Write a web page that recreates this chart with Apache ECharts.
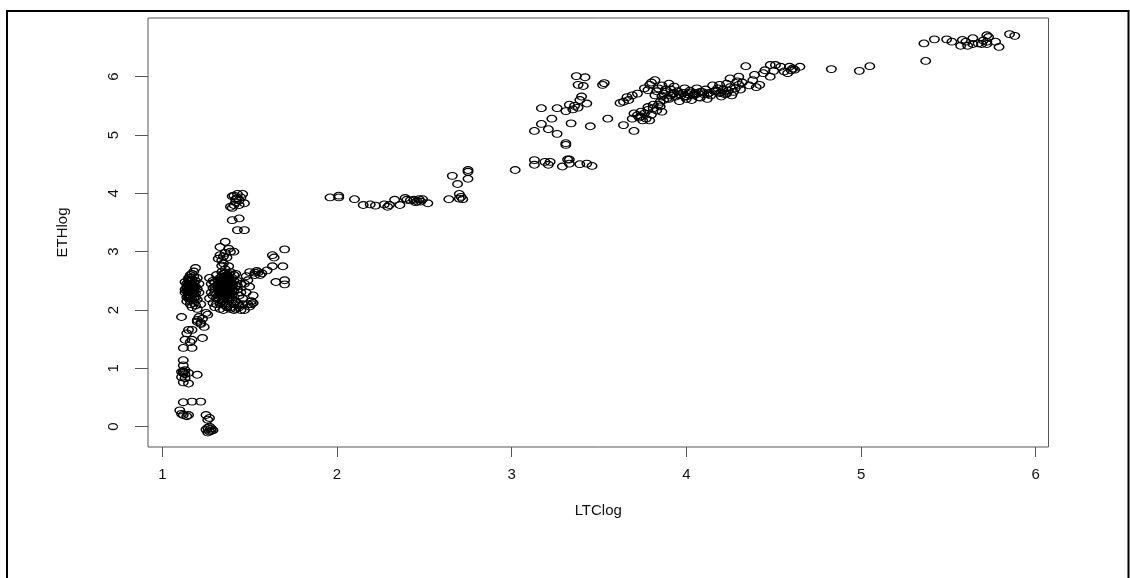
<!DOCTYPE html>
<html>
<head>
<meta charset="utf-8">
<script src="https://cdn.jsdelivr.net/npm/echarts@6.0.0/dist/echarts.min.js"></script>
<style>
html,body{margin:0;padding:0;background:#fff;}
#chart{width:1130px;height:578px;}
</style>
</head>
<body>
<div id="chart"></div>
<script>
// Tick labels
var xTicks = [1, 2, 3, 4, 5, 6];
var yTicks = [0, 1, 2, 3, 4, 5, 6];

// LTClog values (x) and ETHlog values (y), paired by index
var ltcLog = [
  // left column
  1.19,1.17,1.18,1.15,1.16,1.18,1.14,1.17,1.15,1.19,1.14,1.16,1.18,1.15,1.17,1.13,1.16,1.19,1.15,1.17,
  1.14,1.18,1.16,1.19,1.17,1.20,1.15,1.13,1.20,1.21,1.20,1.16,1.18,1.15,1.13,1.19,1.20,1.14,1.22,1.21,
  1.15,1.17,1.16,1.18,1.14,1.16,1.17,1.15,1.18,1.16,1.14,1.17,1.19,1.15,1.16,1.18,1.17,1.15,1.16,1.18,
  // main blob
  1.27,1.28,1.29,1.28,1.27,1.29,1.30,1.31,1.32,1.31,1.32,1.31,1.32,1.31,1.33,1.34,1.33,1.35,1.34,1.33,
  1.35,1.34,1.36,1.35,1.36,1.37,1.36,1.38,1.37,1.36,1.38,1.37,1.39,1.38,1.39,1.40,1.39,1.40,1.41,1.39,
  1.40,1.41,1.42,1.42,1.43,1.42,1.43,1.44,1.42,1.44,1.45,1.45,1.30,1.33,1.35,1.37,1.39,1.36,1.34,1.38,
  1.32,1.35,1.37,1.33,1.36,1.40,1.41,1.35,1.30,1.31,1.29,1.38,1.36,1.34,1.40,1.38,1.33,1.37,1.41,1.43,
  1.29,1.30,
  1.33,1.34,1.35,1.36,1.37,1.38,1.39,1.34,1.35,1.36,1.37,1.38,1.33,1.35,1.36,1.37,1.39,1.34,1.36,1.38,
  1.35,1.36,1.37,1.38,1.34,1.35,1.37,1.39,1.36,1.38,1.33,1.35,1.37,1.36,1.34,1.38,1.35,1.37,1.36,1.39,
  1.32,1.34,1.36,1.38,1.40,1.35,1.37,1.33,1.39,1.36,
  // upper part of blob
  1.36,1.33,1.33,1.39,1.41,1.34,1.35,1.37,1.36,1.32,1.38,1.35,1.34,
  // top cluster
  1.43,1.46,1.40,1.43,1.47,1.39,1.41,1.44,1.40,1.44,1.43,1.47,1.42,1.45,1.40,1.42,1.41,1.44,
  // right wing
  1.70,1.63,1.64,1.69,1.63,1.65,1.70,1.70,1.60,1.55,1.50,1.53,1.49,1.50,1.52,1.52,1.46,1.45,1.47,1.41,
  1.39,1.57,1.54,1.48,1.47,1.51,1.49,1.46,1.48,1.56,1.53,1.51,1.50,1.44,1.43,
  // lower stem
  1.11,1.21,1.20,1.24,1.26,1.23,1.22,1.25,1.15,1.17,1.13,1.17,1.23,1.12,1.17,1.16,1.14,1.12,1.11,1.12,
  1.13,1.15,1.20,1.12,1.15,1.13,1.12,1.11,1.12,1.17,1.22,1.10,1.12,1.14,1.11,1.15,1.25,1.27,1.26,1.25,
  1.27,1.28,1.26,1.29,1.27,1.20,1.22,1.13,1.12,1.28,1.26,
  // 2 - 3
  1.96,2.01,2.01,2.10,2.15,2.19,2.22,2.27,2.29,2.30,2.33,2.36,2.39,2.40,2.44,2.46,2.47,2.49,2.52,2.45,
  2.64,2.70,2.71,2.72,2.70,2.66,2.69,2.75,2.75,2.75,3.02,2.42,2.48,
  // 3 - 3.6
  3.13,3.13,3.19,3.21,3.22,3.29,3.32,3.33,3.39,3.43,3.46,3.33,3.31,3.31,3.13,3.17,3.21,3.26,3.23,3.17,
  3.26,3.31,3.33,3.34,3.35,3.39,3.40,3.43,3.45,3.37,3.42,3.38,3.41,3.52,3.53,3.55,3.36,3.38,
  // 3.6 - 4.4
  3.69,3.72,3.76,3.78,3.81,3.85,3.75,3.79,3.70,3.86,3.77,3.73,3.80,3.83,3.74,
  3.64,3.70,3.64,3.66,3.69,3.72,3.62,3.67,
  3.82,3.79,3.84,3.87,3.89,3.78,3.82,3.90,3.93,3.85,3.80,3.76,3.83,3.86,3.88,
  3.90,3.92,3.94,3.95,3.97,3.98,4.00,4.01,4.02,4.04,4.05,4.07,4.08,4.10,4.11,4.13,4.14,4.16,4.18,4.19,
  4.21,4.22,4.24,4.25,4.27,4.28,4.30,4.31,3.96,4.03,4.06,4.12,4.20,3.91,3.99,4.15,4.23,4.29,4.32,4.26,
  3.86,3.88,3.91,3.93,3.96,3.99,4.02,4.05,4.09,4.12,4.17,4.20,4.23,3.84,3.87,3.81,3.78,3.74,4.00,4.08,
  4.19,4.25,4.30,4.39,4.38,4.34,4.42,4.36,4.40,
  4.45,4.48,4.51,4.54,4.48,4.56,4.59,4.60,4.61,4.65,4.58,4.44,4.50,4.62,
  4.83,4.99,5.05,
  // top right
  5.36,5.37,5.42,5.49,5.52,5.57,5.58,5.60,5.64,5.64,5.67,5.69,5.72,5.72,5.72,5.77,5.79,5.85,5.88,5.61,
  5.70,5.73
];
var ethLog = [
  // left column
  2.72,2.62,2.58,2.55,2.50,2.47,2.45,2.43,2.40,2.40,2.37,2.35,2.33,2.30,2.28,2.30,2.25,2.22,2.20,2.18,
  2.15,2.12,2.10,2.08,2.05,2.02,2.42,2.48,2.55,2.30,2.18,2.60,2.66,2.27,2.35,2.50,2.36,2.22,2.10,2.45,
  2.52,2.46,2.38,2.36,2.32,2.44,2.31,2.24,2.27,2.20,2.40,2.38,2.29,2.34,2.16,2.40,2.52,2.45,2.56,2.20,
  // main blob
  2.55,2.45,2.38,2.30,2.20,2.12,2.05,2.60,2.50,2.42,2.35,2.27,2.18,2.10,2.02,2.65,2.55,2.48,2.40,2.33,
  2.25,2.15,2.08,2.00,2.70,2.60,2.52,2.45,2.37,2.30,2.20,2.12,2.05,2.75,2.65,2.55,2.48,2.40,2.32,2.28,
  2.18,2.10,2.02,2.62,2.50,2.42,2.35,2.25,2.15,2.08,2.45,2.30,2.48,2.44,2.36,2.28,2.36,2.42,2.50,2.52,
  2.25,2.14,2.20,2.38,2.58,2.45,2.60,2.62,2.30,2.20,2.50,2.40,2.35,2.30,2.25,2.62,2.12,2.05,2.50,2.42,
  2.25,2.40,
  2.46,2.43,2.40,2.46,2.42,2.38,2.44,2.36,2.33,2.39,2.47,2.34,2.30,2.45,2.48,2.32,2.40,2.26,2.27,2.30,
  2.55,2.37,2.50,2.56,2.47,2.29,2.40,2.53,2.44,2.34,2.52,2.42,2.35,2.22,2.39,2.26,2.18,2.58,2.31,2.43,
  2.41,2.57,2.64,2.48,2.35,2.52,2.45,2.29,2.22,2.53,
  // upper part of blob
  3.17,3.08,2.94,3.00,3.00,2.85,2.80,2.90,2.98,2.88,3.05,2.92,2.76,
  // top cluster
  3.99,3.99,3.95,3.92,3.83,3.77,3.80,3.80,3.54,3.57,3.37,3.37,3.90,3.93,3.75,3.85,3.96,3.88,
  // right wing
  3.04,2.94,2.90,2.75,2.75,2.48,2.51,2.44,2.68,2.65,2.65,2.60,2.51,2.40,2.25,2.12,2.10,2.00,2.00,2.00,
  2.02,2.63,2.67,2.58,2.45,2.15,2.10,2.20,2.30,2.60,2.64,2.10,2.06,2.05,2.12,
  // lower stem
  1.88,1.88,1.80,1.71,1.92,1.85,1.78,1.95,1.66,1.66,1.49,1.49,1.52,1.35,1.35,1.45,1.60,1.14,0.94,0.92,
  0.97,0.92,0.89,0.76,0.74,0.83,1.05,0.85,0.42,0.43,0.43,0.28,0.20,0.18,0.22,0.20,0.20,0.15,0.12,-0.05,
  -0.08,-0.03,-0.10,-0.06,0.00,1.83,1.76,0.90,0.95,-0.07,-0.02,
  // 2 - 3
  3.93,3.96,3.93,3.90,3.80,3.81,3.79,3.81,3.77,3.80,3.89,3.80,3.92,3.89,3.89,3.86,3.90,3.90,3.83,3.85,
  3.90,3.99,3.94,3.90,3.91,4.30,4.16,4.37,4.25,4.40,4.40,3.88,3.86,
  // 3 - 3.6
  4.57,4.49,4.54,4.49,4.54,4.46,4.58,4.51,4.50,4.51,4.47,4.58,4.86,4.83,5.07,5.19,5.10,5.02,5.28,5.46,
  5.46,5.41,5.52,5.20,5.44,5.60,5.66,5.54,5.15,6.01,5.99,5.86,5.84,5.86,5.89,5.28,5.50,5.47,
  // 3.6 - 4.4
  5.28,5.34,5.37,5.43,5.46,5.49,5.25,5.25,5.37,5.40,5.28,5.30,5.35,5.42,5.40,
  5.17,5.07,5.57,5.65,5.68,5.71,5.55,5.60,
  5.94,5.86,5.80,5.71,5.63,5.77,5.68,5.88,5.83,5.57,5.90,5.80,5.75,5.85,5.78,
  5.62,5.70,5.66,5.75,5.68,5.72,5.62,5.70,5.76,5.68,5.72,5.65,5.74,5.70,5.78,5.72,5.68,5.75,5.80,5.72,
  5.78,5.70,5.76,5.82,5.74,5.80,5.86,5.78,5.58,5.60,5.80,5.62,5.66,5.78,5.80,5.85,5.88,5.92,5.90,5.68,
  5.66,5.74,5.68,5.72,5.70,5.66,5.73,5.69,5.74,5.70,5.76,5.73,5.71,5.52,5.60,5.52,5.48,5.32,5.66,5.64,
  5.86,5.97,6.00,6.03,5.94,6.18,5.86,5.85,5.82,
  6.11,6.20,6.20,6.17,6.00,6.09,6.17,6.11,6.14,6.17,6.06,6.06,6.10,6.12,
  6.13,6.10,6.18,
  // top right
  6.57,6.27,6.64,6.64,6.60,6.53,6.63,6.60,6.56,6.66,6.57,6.56,6.56,6.71,6.60,6.60,6.51,6.73,6.70,6.53,
  6.62,6.68
];

var xName = 'LTClog';
var yName = 'ETHlog';

var points = [];
for (var i = 0; i < Math.min(ltcLog.length, ethLog.length); i++) {
  points.push([ltcLog[i], ethLog[i]]);
}

var chart = echarts.init(document.getElementById('chart'), null, {renderer: 'canvas'});
var font = 'Liberation Sans, Arial, sans-serif';
chart.setOption({
  animation: false,
  backgroundColor: '#ffffff',
  graphic: [{
    type: 'rect',
    silent: true,
    shape: {x: 7, y: 11, width: 1121.5, height: 700},
    style: {fill: 'none', stroke: '#000', lineWidth: 2}
  }],
  grid: {
    left: 148, top: 18, right: 81.5, bottom: 131,
    show: true, borderColor: '#555', borderWidth: 1, backgroundColor: 'transparent'
  },
  xAxis: {
    type: 'value',
    min: 0.918, max: 6.073,
    name: xName, nameLocation: 'middle', nameGap: 56,
    nameTextStyle: {fontFamily: font, fontSize: 15, color: '#111'},
    axisLine: {show: false, onZero: false},
    splitLine: {show: false},
    axisTick: {show: true, inside: false, customValues: xTicks, length: 10, lineStyle: {color: '#555', width: 1}},
    axisLabel: {customValues: xTicks, margin: 20, fontFamily: font, fontSize: 15, color: '#111'}
  },
  yAxis: {
    type: 'value',
    min: -0.348, max: 7.006,
    name: yName, nameLocation: 'middle', nameGap: 78,
    nameTextStyle: {fontFamily: font, fontSize: 15, color: '#111'},
    axisLine: {show: false, onZero: false},
    splitLine: {show: false},
    axisTick: {show: true, inside: false, customValues: yTicks, length: 13, lineStyle: {color: '#555', width: 1}},
    axisLabel: {customValues: yTicks, rotate: 90, margin: 27, fontFamily: font, fontSize: 15, color: '#111'}
  },
  series: [{
    type: 'scatter',
    data: points,
    symbol: 'circle',
    symbolSize: [9.5, 6.8],
    itemStyle: {color: 'rgba(0,0,0,0)', borderColor: '#000', borderWidth: 1.25, opacity: 1},
    emphasis: {disabled: true},
    silent: true
  }]
});
</script>
</body>
</html>
